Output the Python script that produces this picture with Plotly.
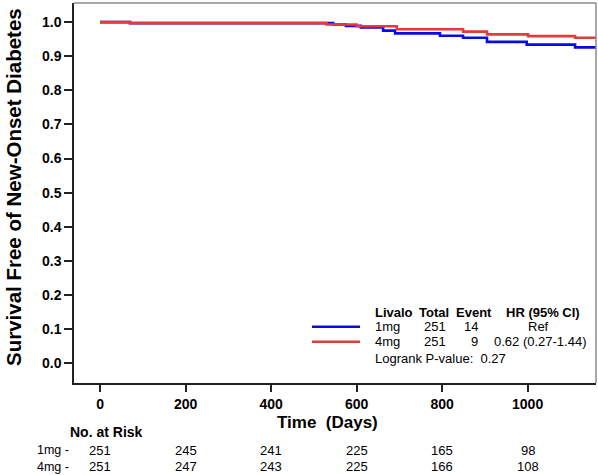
import plotly.graph_objects as go

# ---- data ----
groups = ["1mg", "4mg"]
blue_time = [0, 70, 545, 575, 610, 662, 690, 795, 849, 905, 998, 1111, 1160]
blue_surv = [1.0, 0.997, 0.993, 0.989, 0.984, 0.975, 0.967, 0.960, 0.954, 0.942, 0.934, 0.926, 0.926]
red_time = [0, 70, 530, 600, 694, 849, 905, 1001, 1111, 1160]
red_surv = [1.0, 0.997, 0.993, 0.988, 0.979, 0.972, 0.964, 0.959, 0.954, 0.954]

x_ticks = [0, 200, 400, 600, 800, 1000]
y_ticks = [0.0, 0.1, 0.2, 0.3, 0.4, 0.5, 0.6, 0.7, 0.8, 0.9, 1.0]
risk_times = [0, 200, 400, 600, 800, 1000]
risk_1mg = [251, 245, 241, 225, 165, 98]
risk_4mg = [251, 247, 243, 225, 166, 108]

table_header = ["Livalo", "Total", "Event", "HR (95% CI)"]
table_total = [251, 251]
table_event = [14, 9]
table_hr = ["Ref", "0.62 (0.27-1.44)"]
logrank_text = "Logrank P-value:  0.27"

BLUE = "#0a0ae6"
RED = "#e23c3c"
FONT = "Liberation Sans, Arial, sans-serif"

W, H = 598, 475
L, R, T, B = 74, 2, 3, 92
PW, PH = W - L - R, H - T - B


def px(xp):
    return (xp - L) / PW


def py(yp):
    return (H - B - yp) / PH


fig = go.Figure()
fig.add_trace(go.Scatter(x=blue_time, y=blue_surv, mode="lines", line=dict(color=BLUE, width=2.6, shape="hv"),
                         showlegend=False, hoverinfo="skip"))
fig.add_trace(go.Scatter(x=red_time, y=red_surv, mode="lines", line=dict(color=RED, width=2.6, shape="hv"),
                         showlegend=False, hoverinfo="skip"))

ann = []
# y-axis title
ann.append(dict(text="<b>Survival Free of New-Onset Diabetes</b>", xref="paper", yref="paper",
                x=px(14), y=py(187), textangle=-90, showarrow=False,
                font=dict(size=20.5, color="black", family=FONT), xanchor="center", yanchor="middle"))
# x-axis title
ann.append(dict(text="<b>Time  (Days)</b>", xref="paper", yref="paper", x=px(327), y=py(422),
                showarrow=False, font=dict(size=17, color="black", family=FONT),
                xanchor="center", yanchor="middle"))
# risk table
ann.append(dict(text="<b>No. at Risk</b>", xref="paper", yref="paper", x=px(68), y=py(432),
                showarrow=False, font=dict(size=14, color="black", family=FONT),
                xanchor="left", yanchor="middle"))
for lab, row, yp in [("1mg -", risk_1mg, 450), ("4mg -", risk_4mg, 466.5)]:
    ann.append(dict(text=lab, xref="paper", yref="paper", x=px(35), y=py(yp), showarrow=False,
                    font=dict(size=12.5, color="black", family=FONT), xanchor="left", yanchor="middle"))
    for t, v in zip(risk_times, row):
        ann.append(dict(text=str(v), xref="x", yref="paper", x=t, y=py(yp), showarrow=False,
                        font=dict(size=13, color="black", family=FONT), xanchor="center", yanchor="middle"))

# legend table
hdr_x = [373, 416.7, 454, 504]
for txt, xp in zip(table_header, hdr_x):
    ann.append(dict(text="<b>" + txt + "</b>", xref="paper", yref="paper", x=px(xp), y=py(312),
                    showarrow=False, font=dict(size=13, color="black", family=FONT),
                    xanchor="left", yanchor="middle"))
rows_y = [326.7, 341.7]
for i, g in enumerate(groups):
    yp = rows_y[i]
    ann.append(dict(text=g, xref="paper", yref="paper", x=px(373), y=py(yp), showarrow=False,
                    font=dict(size=13, color="black", family=FONT), xanchor="left", yanchor="middle"))
    ann.append(dict(text=str(table_total[i]), xref="paper", yref="paper", x=px(421.5), y=py(yp), showarrow=False,
                    font=dict(size=13, color="black", family=FONT), xanchor="left", yanchor="middle"))
    ann.append(dict(text=str(table_event[i]), xref="paper", yref="paper", x=px(479.5), y=py(yp), showarrow=False,
                    font=dict(size=13, color="black", family=FONT), xanchor="right", yanchor="middle"))
    if i == 0:
        ann.append(dict(text=table_hr[i], xref="paper", yref="paper", x=px(538), y=py(yp), showarrow=False,
                        font=dict(size=13, color="black", family=FONT), xanchor="center", yanchor="middle"))
    else:
        ann.append(dict(text=table_hr[i], xref="paper", yref="paper", x=px(491.5), y=py(yp), showarrow=False,
                        font=dict(size=13, color="black", family=FONT), xanchor="left", yanchor="middle"))
ann.append(dict(text=logrank_text, xref="paper", yref="paper", x=px(373), y=py(358.3), showarrow=False,
                font=dict(size=13, color="black", family=FONT), xanchor="left", yanchor="middle"))

shapes = [
    dict(type="line", xref="paper", yref="paper", x0=px(312), x1=px(360), y0=py(326.7), y1=py(326.7),
         line=dict(color=BLUE, width=2.6)),
    dict(type="line", xref="paper", yref="paper", x0=px(312), x1=px(360), y0=py(341.7), y1=py(341.7),
         line=dict(color=RED, width=2.6)),
    # top / right frame lines (grey)
    dict(type="line", xref="paper", yref="paper", x0=0, x1=1, y0=1, y1=1, line=dict(color="#8a8a8a", width=1.5)),
    dict(type="line", xref="paper", yref="paper", x0=1, x1=1, y0=0, y1=1, line=dict(color="#8a8a8a", width=1.5)),
]

fig.update_layout(
    width=W, height=H, margin=dict(l=L, r=R, t=T, b=B),
    paper_bgcolor="white", plot_bgcolor="white",
    font=dict(family=FONT, color="black"),
    annotations=ann, shapes=shapes,
    xaxis=dict(range=[-61, 1160], tickvals=x_ticks, ticktext=["<b>%d</b>" % v for v in x_ticks],
               showgrid=False, zeroline=False, showline=True, linecolor="#222", linewidth=1.5,
               ticks="outside", ticklen=7, tickwidth=1.5, tickcolor="#222",
               tickfont=dict(size=14, family=FONT, color="black")),
    yaxis=dict(range=[-0.058, 1.056], tickvals=y_ticks, ticktext=["<b>%.1f</b>" % v for v in y_ticks],
               showgrid=False, zeroline=False, showline=True, linecolor="#222", linewidth=1.5,
               ticks="outside", ticklen=8, tickwidth=1.5, tickcolor="#222",
               tickfont=dict(size=14, family=FONT, color="black")),
)

fig.write_html("out.html", config={"displayModeBar": False},
               post_script="document.body.style.margin='0';document.body.style.overflow='hidden';")
